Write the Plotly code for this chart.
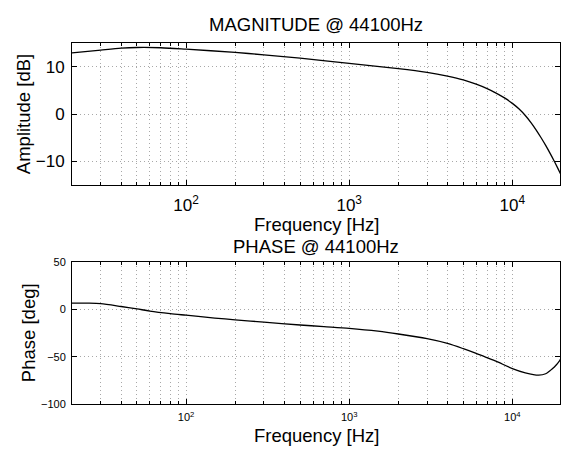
import numpy as np
import plotly.graph_objects as go

# ---- data ----
mag_freq = [20, 30, 40, 50, 70, 100, 200, 300, 500, 1000, 2000, 3000, 4000,
            5000, 6000, 7000, 8000, 9000, 10000, 11000, 12000, 13000, 14000,
            15000, 16000, 17000, 18000, 19000, 20000]
mag_db = [12.9, 13.5, 13.9, 14.05, 14.0, 13.7, 13.0, 12.5, 11.8, 10.7, 9.6, 8.8, 8.0,
          7.2, 6.3, 5.36, 4.37, 3.35, 2.25, 1.05, -0.31, -1.81, -3.39,
          -5.01, -6.63, -8.26, -9.87, -11.47, -13.05]

ph_freq = [20, 25, 30, 40, 50, 60, 80, 100, 150, 200, 300, 500, 700, 1000, 1500,
           2000, 3000, 4000, 5000, 6000, 7000, 8000, 10000, 12000, 14500, 16000,
           17500, 18500, 19500, 20000]
ph_deg = [6.5, 6.5, 6.0, 3.0, 0.5, -1.8, -4.5, -6.2, -9.2, -11.0, -13.5, -16.5, -18.2,
          -20.0, -23.0, -26.0, -31.0, -36.0, -41.5, -46.5, -51.0, -55.0, -62.5, -67.0,
          -69.5, -68.0, -63.0, -59.0, -54.0, -51.0]

x_major_vals = [100, 1000, 10000]
x_major_text = ["10<sup>2</sup>", "10<sup>3</sup>", "10<sup>4</sup>"]
x_minor_vals = [m * d for d in (10, 100, 1000, 10000) for m in range(2, 10)
                if 20 <= m * d <= 20000]

mag_yticks = [-10, 0, 10]
ph_yticks = [-100, -50, 0, 50]

titles = ["MAGNITUDE @ 44100Hz", "PHASE @ 44100Hz"]
x_title = "Frequency [Hz]"
y_titles = ["Amplitude [dB]", "Phase [deg]"]

FONT = "Liberation Sans, Arial, Helvetica, sans-serif"
W, H = 561, 450
L = 72
PW = W - L
GRID_COLOR = "#a8a8a8"
GRID_DASH = "1px,3px"

fig = go.Figure()
fig.add_trace(go.Scatter(x=mag_freq, y=mag_db, mode="lines", xaxis="x", yaxis="y",
                         line=dict(color="black", width=1.3, shape="spline", smoothing=0.8),
                         showlegend=False, hoverinfo="skip"))
fig.add_trace(go.Scatter(x=ph_freq, y=ph_deg, mode="lines", xaxis="x2", yaxis="y2",
                         line=dict(color="black", width=1.3, shape="spline", smoothing=0.8),
                         showlegend=False, hoverinfo="skip"))

xr = [np.log10(20), np.log10(20) + PW / 163.5]
grid = dict(showgrid=True, gridcolor=GRID_COLOR, griddash=GRID_DASH, gridwidth=1)

def xaxis(anchor, tick_size, standoff):
    return dict(type="log", range=xr, domain=[0, 1], anchor=anchor,
                tickvals=x_major_vals, ticktext=x_major_text,
                ticks="inside", ticklen=5, tickcolor="black",
                showline=True, linecolor="black", linewidth=1, mirror="ticks",
                zeroline=False, ticklabelstandoff=standoff,
                tickfont=dict(family=FONT, size=tick_size, color="black"),
                minor=dict(tickvals=x_minor_vals, ticks="inside", ticklen=3,
                           tickcolor="black", showgrid=True, gridcolor=GRID_COLOR,
                           griddash=GRID_DASH, gridwidth=1),
                **grid)

def yaxis(anchor, dom, rng, vals, tick_size):
    return dict(range=rng, domain=dom, anchor=anchor, tickvals=vals,
                ticks="inside", ticklen=5, tickcolor="black",
                showline=True, linecolor="black", linewidth=1, mirror="ticks",
                zeroline=False, ticklabelstandoff=3,
                tickfont=dict(family=FONT, size=tick_size, color="black"),
                **grid)

top_dom = [(H - 184) / H, (H - 38) / H]
bot_dom = [(H - 409) / H, (H - 263) / H]

fig.update_layout(
    width=W, height=H,
    margin=dict(l=L, r=0, t=0, b=0),
    paper_bgcolor="white", plot_bgcolor="white",
    font=dict(family=FONT, color="black"),
    xaxis=xaxis("y", 17, 5),
    yaxis=yaxis("x", top_dom, [-15, 15], mag_yticks, 17),
    xaxis2=xaxis("y2", 11, 3),
    yaxis2=yaxis("x2", bot_dom, [-100, 50], ph_yticks, 11),
)

def px_x(px):
    return (px - L) / PW

def px_y(py):
    return (H - py) / H

ann = [
    dict(text=titles[0], x=px_x(317), y=px_y(19), size=18.5, angle=0),
    dict(text=titles[1], x=px_x(317), y=px_y(247), size=18.5, angle=0),
    dict(text=x_title, x=px_x(317), y=px_y(224), size=18.5, angle=0),
    dict(text=x_title, x=px_x(317), y=px_y(441), size=18.5, angle=0),
    dict(text=y_titles[0], x=px_x(23), y=px_y(111), size=18.5, angle=-90),
    dict(text=y_titles[1], x=px_x(28), y=px_y(336), size=18.5, angle=-90),
]
for a in ann:
    fig.add_annotation(text=a["text"], x=a["x"], y=a["y"], xref="paper", yref="paper",
                       showarrow=False, textangle=a["angle"], xanchor="center",
                       yanchor="middle", font=dict(family=FONT, size=a["size"], color="black"))

fig.write_html("out.html")
